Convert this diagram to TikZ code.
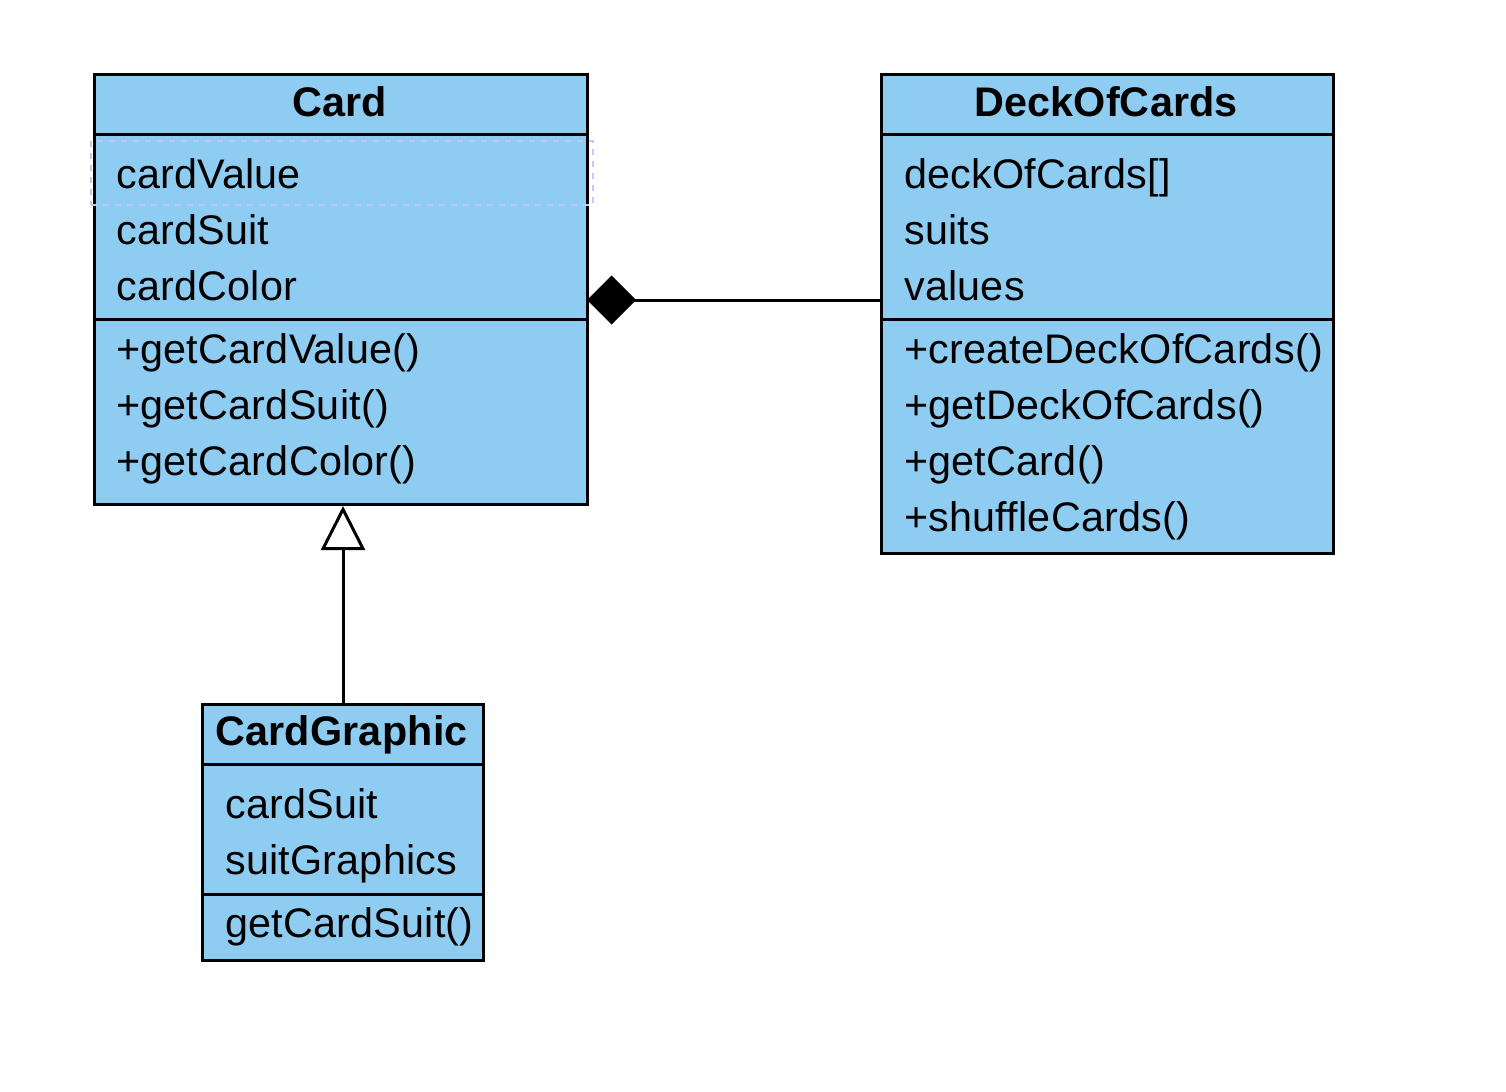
\documentclass[tikz,border=0pt]{standalone}
\usepackage{fontspec}
\setmainfont{Liberation Sans}[LetterSpace=0.5]
\usetikzlibrary{arrows.meta}
\definecolor{umlfill}{RGB}{143,204,241}
\definecolor{selblue}{RGB}{188,200,250}
\tikzset{
  part/.style={draw=black, fill=umlfill, line width=2.25pt, anchor=north west, inner sep=0pt},
  txt/.style={anchor=base west, inner sep=0pt, font=\fontsize{31pt}{36pt}\selectfont},
  ttl/.style={anchor=base, inner sep=0pt, font=\fontsize{31pt}{36pt}\selectfont\bfseries},
  conn/.style={draw=black, line width=2.25pt},
}
\newcommand{\pbox}[5]{% name, x1, y1, x2, y2
  \node[part, minimum width={(#4-#2)*0.75pt}, minimum height={(#5-#3)*0.75pt}] (#1) at (#2,#3) {};}
\begin{document}
\begin{tikzpicture}[x=0.75pt, y=-0.75pt]
\useasboundingbox (0,0) rectangle (1506,1092);
% Card
\pbox{cardT}{93}{73}{586}{133}
\pbox{cardA}{93}{133}{586}{318}
\pbox{cardM}{93}{318}{586}{503}
\node[draw=selblue, dash pattern=on 4.5pt off 4.5pt, line width=1.2pt, minimum width={502*0.75pt}, minimum height={64*0.75pt}, anchor=north west, inner sep=0pt] (sel) at (90,140) {};
\node[ttl] (cardN) at (339.5,116) {Card};
\node[txt] (c1) at (116,188) {cardValue};
\node[txt] (c2) at (116,244) {cardSuit};
\node[txt] (c3) at (116,300) {cardColor};
\node[txt] (c4) at (116,363) {+getCardValue()};
\node[txt] (c5) at (116,419) {+getCardSuit()};
\node[txt] (c6) at (116,475) {+getCardColor()};
% DeckOfCards
\pbox{deckT}{880}{73}{1332}{133}
\pbox{deckA}{880}{133}{1332}{318}
\pbox{deckM}{880}{318}{1332}{552}
\node[ttl] (deckN) at (1106,116) {DeckOfCards};
\node[txt] (d1) at (904,188) {deckOfCards[]};
\node[txt] (d2) at (904,244) {suits};
\node[txt] (d3) at (904,300) {values};
\node[txt] (d4) at (904,363) {+createDeckOfCards()};
\node[txt] (d5) at (904,419) {+getDeckOfCards()};
\node[txt] (d6) at (904,475) {+getCard()};
\node[txt] (d7) at (904,531) {+shuffleCards()};
% CardGraphic
\pbox{cgT}{201}{703}{482}{763}
\pbox{cgA}{201}{763}{482}{893}
\pbox{cgM}{201}{893}{482}{959}
\node[ttl] (cgN) at (341.5,745) {CardGraphic};
\node[txt] (g1) at (225,818) {cardSuit};
\node[txt] (g2) at (225,874) {suitGraphics};
\node[txt] (g3) at (225,937) {getCardSuit()};
% connectors
\coordinate (compS) at (880,300);
\coordinate (compE) at (587,300);
\draw[conn, -{Diamond[length=36.75pt, width=36.75pt, fill=black]}] (compS) -- (compE);
\draw[conn, -{Triangle[open, fill=white, length=33pt, width=33pt, line width=2.25pt]}] (cgT.north) -- (cgT.north |- cardM.south);
\end{tikzpicture}
\end{document}
